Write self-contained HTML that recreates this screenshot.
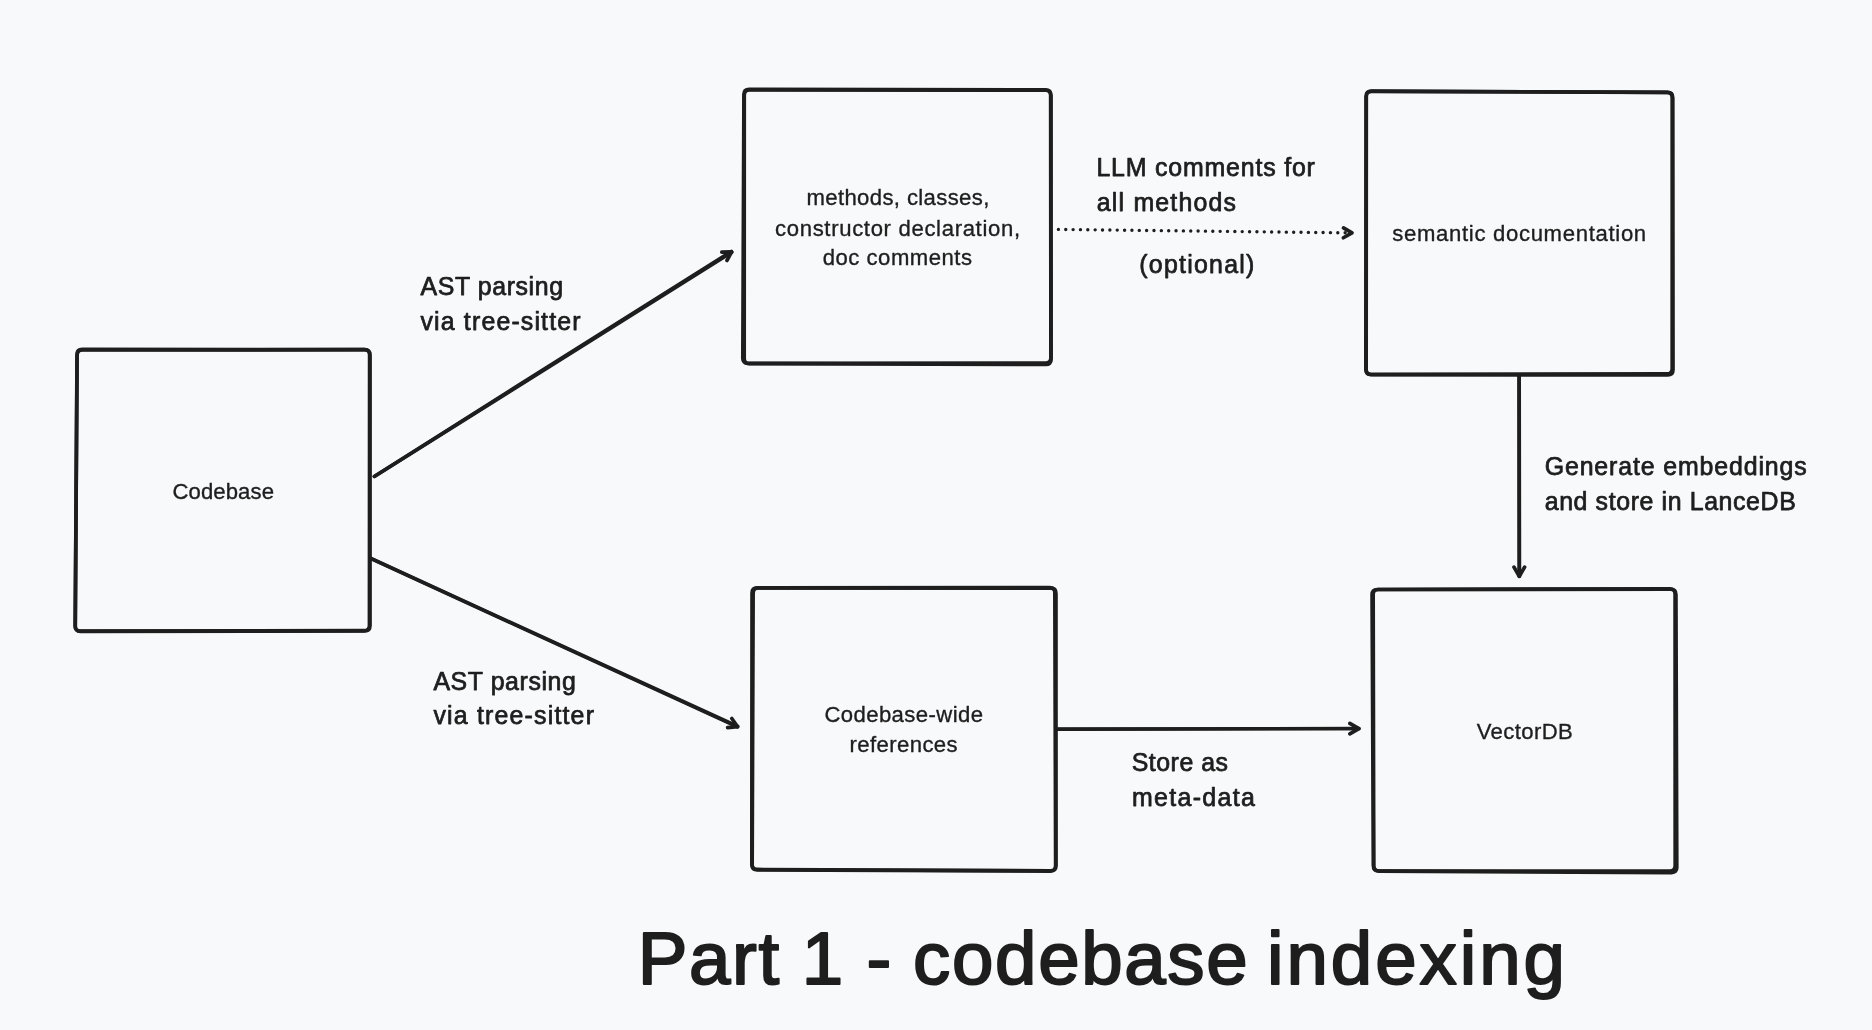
<!DOCTYPE html>
<html lang="en">
<head>
<meta charset="utf-8">
<title>Part 1 - codebase indexing</title>
<style>
html,body{margin:0;padding:0;background:#f8f9fa;}
body{width:1872px;height:1030px;overflow:hidden;position:relative;font-family:"Liberation Sans",sans-serif;}
svg{position:absolute;left:0;top:0;display:block;will-change:transform;}
.shape{fill:none;stroke:#1e1e1e;stroke-width:3.7;stroke-linecap:round;stroke-linejoin:round;}
text{font-family:"Liberation Sans",sans-serif;fill:#1e1e1e;stroke:#1e1e1e;stroke-linejoin:round;white-space:pre;}
</style>
</head>
<body>
<svg width="1872" height="1030" viewBox="0 0 1872 1030">
<rect x="0" y="0" width="1872" height="1030" fill="#f8f9fa"/>

<g class="shape">
<!-- box: codebase -->
<path d="M77.02 354.65 Q77.05 349.45 82.25 349.45 L364.43 349.70 Q369.62 349.70 369.62 354.90 L369.45 625.45 Q369.45 630.65 364.25 630.66 L80.40 631.04 Q75.20 631.05 75.23 625.85 Z"/>
<path d="M77.11 355.15 Q77.15 349.95 82.35 349.95 L364.78 349.70 Q369.98 349.70 369.97 354.90 L369.95 625.75 Q369.95 630.95 364.75 630.96 L80.40 631.34 Q75.20 631.35 75.24 626.15 Z"/>
<!-- box: methods -->
<path d="M743.93 94.60 Q743.95 89.40 749.15 89.41 L1045.45 89.94 Q1050.65 89.95 1050.66 95.15 L1050.92 357.80 Q1050.92 363.00 1045.73 363.01 L748.00 363.34 Q742.80 363.35 742.82 358.15 Z"/>
<path d="M744.25 95.20 Q744.25 90.00 749.45 90.00 L1045.75 90.25 Q1050.95 90.25 1050.95 95.45 L1051.07 359.20 Q1051.08 364.40 1045.88 364.39 L749.40 363.66 Q744.20 363.65 744.20 358.45 Z"/>
<!-- box: semantic -->
<path d="M1366.10 96.25 Q1366.10 91.05 1371.30 91.07 L1667.05 92.38 Q1672.25 92.40 1672.25 97.60 L1672.20 368.65 Q1672.20 373.85 1667.00 373.86 L1371.05 374.44 Q1365.85 374.45 1365.85 369.25 Z"/>
<path d="M1366.30 96.55 Q1366.30 91.35 1371.50 91.37 L1667.55 92.38 Q1672.75 92.40 1672.75 97.60 L1673.00 369.75 Q1673.00 374.95 1667.80 374.95 L1371.35 374.75 Q1366.15 374.75 1366.15 369.55 Z"/>
<!-- box: refs -->
<path d="M752.05 593.07 Q752.05 587.88 757.25 587.87 L1049.65 587.63 Q1054.85 587.62 1054.86 592.82 L1055.64 865.55 Q1055.65 870.75 1050.45 870.73 L757.05 869.47 Q751.85 869.45 751.85 864.25 Z"/>
<path d="M753.13 593.12 Q753.15 587.92 758.35 587.93 L1050.75 588.17 Q1055.95 588.17 1055.95 593.38 L1055.95 865.85 Q1055.95 871.05 1050.75 871.03 L757.35 869.97 Q752.15 869.95 752.17 864.75 Z"/>
<!-- box: vector -->
<path d="M1372.08 594.70 Q1372.05 589.50 1377.25 589.49 L1669.90 588.96 Q1675.10 588.95 1675.10 594.15 L1675.20 865.80 Q1675.20 871.00 1670.00 871.00 L1378.65 871.00 Q1373.45 871.00 1373.42 865.80 Z"/>
<path d="M1373.16 594.70 Q1373.15 589.50 1378.35 589.50 L1670.70 589.25 Q1675.90 589.25 1675.92 594.45 L1676.78 867.40 Q1676.80 872.60 1671.60 872.57 L1378.95 871.03 Q1373.75 871.00 1373.74 865.80 Z"/>
<!-- arrow: codebase-to-methods -->
<path d="M374.30 476.40 Q552.55 363.47 731.33 251.38" stroke-width="3.5"/>
<path d="M374.30 476.40 Q553.35 364.73 731.87 252.22" stroke-width="3.5"/>
<path d="M721.81 252.17 L731.6 251.8 L727.02 260.47"/>
<!-- arrow: codebase-to-refs -->
<path d="M371.04 558.41 Q554.53 642.10 737.77 726.34" stroke-width="3.4"/>
<path d="M370.96 558.59 Q554.07 643.10 737.43 727.06" stroke-width="3.4"/>
<path d="M731.81 718.54 L737.6 726.7 L727.64 727.63"/>
<!-- arrow: semantic-to-vector -->
<path d="M1519.25 376.00 Q1519.37 476.15 1519.50 576.30" stroke-width="3.5"/>
<path d="M1518.95 376.00 Q1519.03 476.15 1519.10 576.30" stroke-width="3.5"/>
<path d="M1524.59 567.11 L1519.3 576.3 L1513.99 567.13"/>
<!-- arrow: refs-to-vector -->
<path d="M1057.50 729.00 Q1208.20 728.75 1358.90 728.50" stroke-width="3.3"/>
<path d="M1057.50 729.40 Q1208.20 729.05 1358.90 728.70" stroke-width="3.3"/>
<path d="M1349.80 723.37 L1358.9 728.6 L1349.82 733.87"/>
<!-- arrow (dotted): methods-to-semantic -->
<path d="M1058.4 229.4 L1350.5 232.88" stroke-width="3.4" stroke-dasharray="0.01 7.343"/>
<path d="M1343.49 227.85 L1352.0 232.9 L1343.37 237.75"/>
</g>
<text x="172.5" y="499" font-size="22.1" letter-spacing="0.1" stroke-width="0.35">Codebase</text>
<text x="420.5" y="295" font-size="24.9" letter-spacing="0.6" stroke-width="0.75">AST parsing</text>
<text x="420.5" y="330" font-size="24.9" letter-spacing="1.157" stroke-width="0.75">via tree-sitter</text>
<text x="806.5" y="205.4" font-size="22.1" letter-spacing="0.375" stroke-width="0.35">methods, classes,</text>
<text x="775.0" y="235.6" font-size="22.1" letter-spacing="0.67" stroke-width="0.35">constructor declaration,</text>
<text x="822.7" y="264.5" font-size="22.1" letter-spacing="0.518" stroke-width="0.35">doc comments</text>
<text x="1096.4" y="175.7" font-size="24.9" letter-spacing="0.827" stroke-width="0.75">LLM comments for</text>
<text x="1096.8" y="210.9" font-size="24.9" letter-spacing="1.19" stroke-width="0.75">all methods</text>
<text x="1139.3" y="273.2" font-size="24.9" letter-spacing="1.256" stroke-width="0.75">(optional)</text>
<text x="1392.2" y="240.9" font-size="22.1" letter-spacing="0.69" stroke-width="0.35">semantic documentation</text>
<text x="1544.7" y="474.5" font-size="24.9" letter-spacing="0.872" stroke-width="0.75">Generate embeddings</text>
<text x="1544.7" y="509.7" font-size="24.9" letter-spacing="0.616" stroke-width="0.75">and store in LanceDB</text>
<text x="433.4" y="689.7" font-size="24.9" letter-spacing="0.6" stroke-width="0.75">AST parsing</text>
<text x="433.4" y="723.9" font-size="24.9" letter-spacing="1.193" stroke-width="0.75">via tree-sitter</text>
<text x="824.4" y="722.4" font-size="22.1" letter-spacing="0.425" stroke-width="0.35">Codebase-wide</text>
<text x="849.6" y="751.8" font-size="22.1" letter-spacing="0.4" stroke-width="0.35">references</text>
<text x="1131.7" y="770.7" font-size="24.9" letter-spacing="0.514" stroke-width="0.75">Store as</text>
<text x="1131.9" y="805.8" font-size="24.9" letter-spacing="1.35" stroke-width="0.75">meta-data</text>
<text x="1476.7" y="739" font-size="22.1" letter-spacing="0.4" stroke-width="0.35">VectorDB</text>
<text y="984.1" font-size="74.5" stroke-width="2.0"><tspan x="637.7" letter-spacing="1.6">Part</tspan> <tspan x="801.65" letter-spacing="0.0">1</tspan> <tspan x="866.6" letter-spacing="0.0">-</tspan> <tspan x="913.1" letter-spacing="1.643">codebase</tspan> <tspan x="1267.0" letter-spacing="2.929">indexing</tspan></text>
</svg>
</body>
</html>
